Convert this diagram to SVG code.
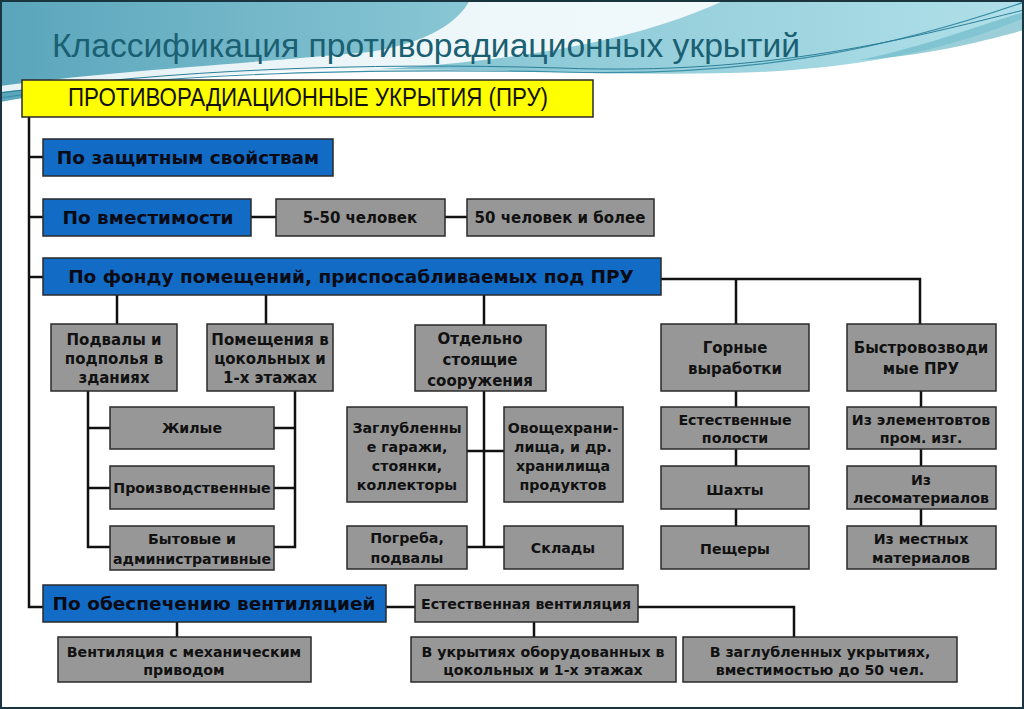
<svg xmlns="http://www.w3.org/2000/svg" width="1024" height="709" viewBox="0 0 1024 709">
<defs>
<linearGradient id="tealg" x1="0" y1="0" x2="1" y2="0">
<stop offset="0" stop-color="#5aa5bb"/>
<stop offset="0.45" stop-color="#88c6d4"/>
<stop offset="1" stop-color="#b0e0e9"/>
</linearGradient>
<style>
.bx{stroke:#2a2a2a;stroke-width:1.5}
.gray{fill:#979797}
.blue{fill:#126cc6}
.yel{fill:#ffff00}
.t{font-family:"DejaVu Sans","Liberation Sans",sans-serif;font-weight:bold;fill:#111;text-anchor:middle}
.g15{font-size:15px}
.g14{font-size:14.2px}
.b{font-size:18.5px;fill:#0a0a14}
.c{fill:none;stroke:#111;stroke-width:2.5}
</style>
</defs>
<rect x="0" y="0" width="1024" height="709" fill="#ffffff"/>
<g id="background">
<path d="M0,0 H1024 V18 C960,45 880,66 760,72 C620,78 470,66 320,70 C190,74 80,88 0,102 Z" fill="url(#tealg)"/>
<path d="M470,0 H725 C640,40 520,62 360,70 C220,77 90,82 0,92 V86 C100,72 240,64 370,52 C430,42 458,22 470,0 Z" fill="#ffffff" opacity="0.85"/>
<path d="M0,98 C150,74 350,68 560,72 C760,78 900,45 1024,2" fill="none" stroke="#3a8ea6" stroke-width="1.2"/>
<path d="M0,93 C170,70 360,62 560,68 C770,76 910,38 1024,10" fill="none" stroke="#2c7f98" stroke-width="1"/>
<path d="M860,60 C930,45 980,25 1024,12 V30 C980,42 930,55 860,60 Z" fill="#6fb9c9" opacity="0.7"/>
<text x="52" y="57" font-family="'Liberation Sans Narrow','Liberation Sans',sans-serif" font-size="33" fill="#1b5f72" textLength="748" lengthAdjust="spacingAndGlyphs">Классификация противорадиационных укрытий</text>
</g>
<g id="connectors">
<path class="c" d="M29,117 V607 H43"/>
<path class="c" d="M29,157 H43 M29,217 H43 M29,277 H43"/>
<path class="c" d="M251,217 H276 M445,217 H467"/>
<path class="c" d="M117,295 V324 M266,295 V324 M484,295 V325"/>
<path class="c" d="M661,279 H920 V324 M736,279 V324"/>
<path class="c" d="M88,391 V547 H110 M88,428 H110 M88,488 H110"/>
<path class="c" d="M295,391 V547 H274 M274,428 H295 M274,488 H295"/>
<path class="c" d="M484,391 V547 M467,451 H504 M467,547 H504"/>
<path class="c" d="M736,391 V526 M921,391 V526"/>
<path class="c" d="M386,607 H415 M177,622 V637 M534,622 V637 M638,607 H794 V637"/>
</g>
<g id="root">
<rect class="bx yel" x="22" y="80" width="571" height="37"/>
<text x="308" y="106" font-family="'Liberation Sans Narrow','Liberation Sans',sans-serif" font-size="25" fill="#111" text-anchor="middle" textLength="480" lengthAdjust="spacingAndGlyphs">ПРОТИВОРАДИАЦИОННЫЕ  УКРЫТИЯ (ПРУ)</text>
</g>
<g id="zashch"><rect class="bx blue" x="43" y="139" width="290" height="37"/><text class="t b" x="188" y="164">По защитным свойствам</text></g>
<g id="vmest"><rect class="bx blue" x="43" y="199" width="208" height="37"/><text class="t b" x="148" y="224">По вместимости</text></g>
<g id="n5_50"><rect class="bx gray" x="276" y="199" width="169" height="37"/><text class="t g15" x="360" y="223">5-50 человек</text></g>
<g id="n50plus"><rect class="bx gray" x="467" y="199" width="187" height="37"/><text class="t g15" x="560" y="223">50 человек и более</text></g>
<g id="fond"><rect class="bx blue" x="43" y="258" width="618" height="37"/><text class="t b" x="351" y="283">По фонду помещений, приспосабливаемых под ПРУ</text></g>
<g id="podvaly"><rect class="bx gray" x="51" y="324" width="126" height="67"/><text class="t g15" x="114" y="345">Подвалы и</text><text class="t g15" x="114" y="364">подполья в</text><text class="t g15" x="114" y="383">зданиях</text></g>
<g id="pomeshch"><rect class="bx gray" x="207" y="324" width="126" height="67"/><text class="t g15" x="270" y="345">Помещения в</text><text class="t g15" x="270" y="364">цокольных и</text><text class="t g15" x="270" y="383">1-х этажах</text></g>
<g id="otdelno"><rect class="bx gray" x="415" y="325" width="131" height="66"/><text class="t g15" x="480" y="344">Отдельно</text><text class="t g15" x="480" y="365">стоящие</text><text class="t g15" x="480" y="386">сооружения</text></g>
<g id="gornye"><rect class="bx gray" x="661" y="324" width="148" height="67"/><text class="t g15" x="735" y="353">Горные</text><text class="t g15" x="735" y="374">выработки</text></g>
<g id="bystro"><rect class="bx gray" x="847" y="324" width="149" height="67"/><text class="t g15" x="921" y="353">Быстровозводи</text><text class="t g15" x="921" y="374">мые ПРУ</text></g>
<g id="zhilye"><rect class="bx gray" x="110" y="407" width="164" height="42"/><text class="t g14" x="192" y="433">Жилые</text></g>
<g id="proizv"><rect class="bx gray" x="110" y="466" width="164" height="43"/><text class="t g14" x="192" y="493">Производственные</text></g>
<g id="bytovye"><rect class="bx gray" x="110" y="526" width="164" height="44"/><text class="t g14" x="192" y="544">Бытовые и</text><text class="t g14" x="192" y="564">административные</text></g>
<g id="zaglub"><rect class="bx gray" x="347" y="407" width="120" height="95"/><text class="t g14" x="407" y="433">Заглубленны</text><text class="t g14" x="407" y="452">е гаражи,</text><text class="t g14" x="407" y="471">стоянки,</text><text class="t g14" x="407" y="490">коллекторы</text></g>
<g id="ovoshch"><rect class="bx gray" x="504" y="407" width="119" height="95"/><text class="t g14" x="563" y="433">Овощехрани-</text><text class="t g14" x="563" y="452">лища, и др.</text><text class="t g14" x="563" y="471">хранилища</text><text class="t g14" x="563" y="490">продуктов</text></g>
<g id="pogreba"><rect class="bx gray" x="347" y="526" width="120" height="43"/><text class="t g14" x="407" y="543">Погреба,</text><text class="t g14" x="407" y="563">подвалы</text></g>
<g id="sklady"><rect class="bx gray" x="504" y="526" width="119" height="43"/><text class="t g14" x="563" y="553">Склады</text></g>
<g id="estpol"><rect class="bx gray" x="661" y="407" width="148" height="42"/><text class="t g14" x="735" y="425">Естественные</text><text class="t g14" x="735" y="443">полости</text></g>
<g id="shakhty"><rect class="bx gray" x="661" y="466" width="148" height="43"/><text class="t g14" x="735" y="495">Шахты</text></g>
<g id="peshchery"><rect class="bx gray" x="661" y="526" width="148" height="43"/><text class="t g14" x="735" y="554">Пещеры</text></g>
<g id="izelem"><rect class="bx gray" x="847" y="407" width="149" height="42"/><text class="t g14" x="921" y="425">Из элементовтов</text><text class="t g14" x="921" y="443">пром. изг.</text></g>
<g id="izles"><rect class="bx gray" x="847" y="466" width="149" height="43"/><text class="t g14" x="921" y="485">Из</text><text class="t g14" x="921" y="503">лесоматериалов</text></g>
<g id="izmest"><rect class="bx gray" x="847" y="526" width="149" height="43"/><text class="t g14" x="921" y="544">Из местных</text><text class="t g14" x="921" y="563">материалов</text></g>
<g id="vent"><rect class="bx blue" x="43" y="585" width="343" height="37"/><text class="t b" x="214" y="610">По обеспечению вентиляцией</text></g>
<g id="estvent"><rect class="bx gray" x="415" y="585" width="223" height="37"/><text class="t g14" x="526" y="609">Естественная вентиляция</text></g>
<g id="ventmech"><rect class="bx gray" x="58" y="637" width="253" height="45"/><text class="t g14" x="184" y="657">Вентиляция с механическим</text><text class="t g14" x="184" y="675">приводом</text></g>
<g id="vukryt"><rect class="bx gray" x="411" y="637" width="265" height="45"/><text class="t g14" x="543" y="657">В укрытиях оборудованных в</text><text class="t g14" x="543" y="675">цокольных и 1-х этажах</text></g>
<g id="vzaglub"><rect class="bx gray" x="683" y="637" width="274" height="45"/><text class="t g14" x="820" y="657">В заглубленных укрытиях,</text><text class="t g14" x="820" y="675">вместимостью до 50 чел.</text></g>
<rect x="1" y="1" width="1022" height="707" fill="none" stroke="#1a3440" stroke-width="2"/>
</svg>
